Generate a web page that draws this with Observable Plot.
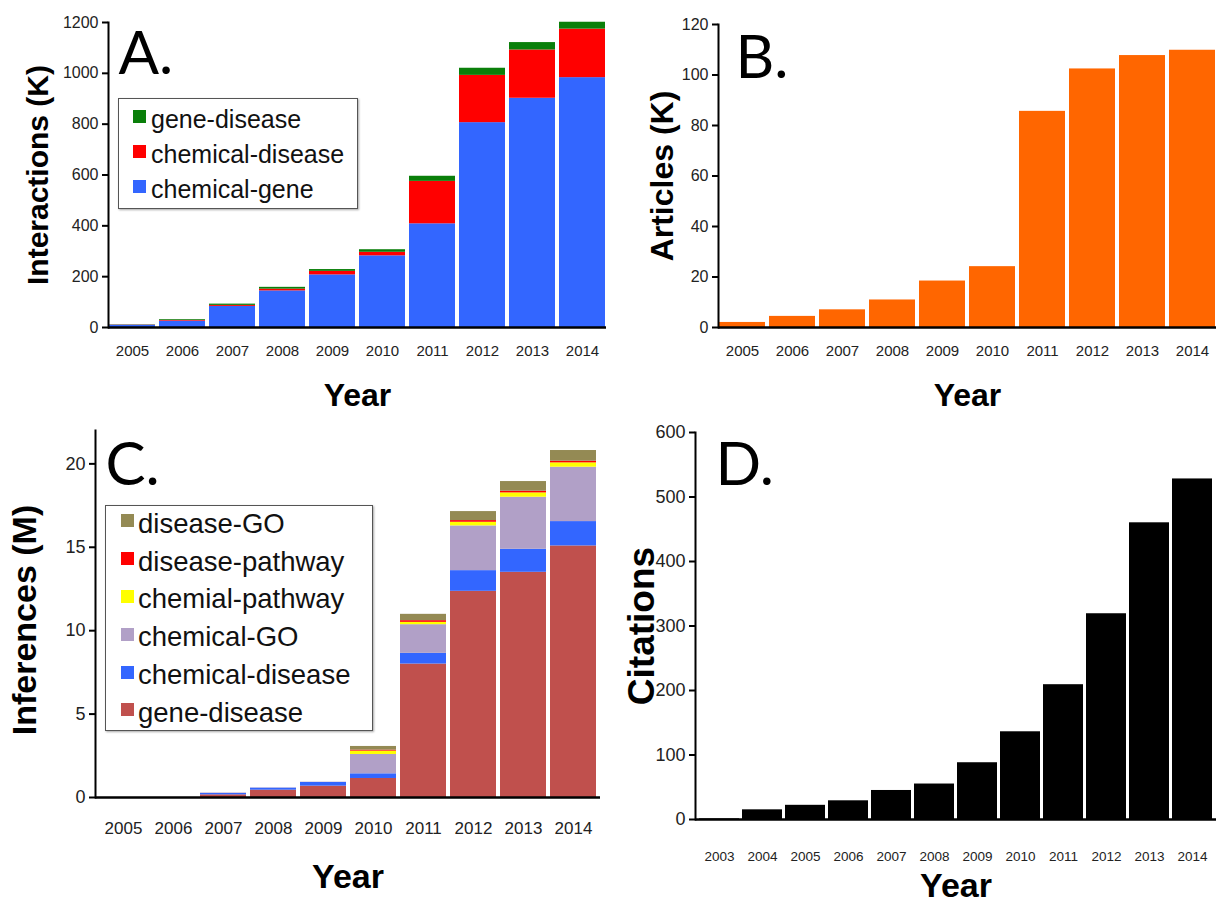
<!DOCTYPE html>
<html>
<head>
<meta charset="utf-8">
<script src="https://cdn.jsdelivr.net/npm/d3@7"></script>
<script src="https://cdn.jsdelivr.net/npm/@observablehq/plot@0.6"></script>
<style>
  html, body { margin: 0; padding: 0; background: white; }
  #root { position: relative; width: 1218px; height: 906px; overflow: hidden; font-family: "Liberation Sans", Arial, sans-serif; }
  .panel { position: absolute; }
  .legend { position: absolute; border: 1.5px solid #555; background: white; box-shadow: 1px 1px 2px rgba(0,0,0,0.35); box-sizing: border-box; }
  .legend .row { position: absolute; left: 0; display: flex; align-items: center; white-space: nowrap; color: #111; }
  .legend .sw { display: inline-block; }
</style>
</head>
<body>
<div id="root"></div>
<script>
// ---------- DATA ----------
const yearsA = ["2005","2006","2007","2008","2009","2010","2011","2012","2013","2014"];
const seriesA = ["chemical-gene","chemical-disease","gene-disease"]; // bottom to top
const colorsA = ["#3366FF","#FF0000","#0A7F0A"];
const aChemGene    = [9, 25, 83, 144, 207, 282, 408, 806, 902, 983];
const aChemDisease = [1, 3, 4, 7, 14, 14, 167, 186, 190, 191];
const aGeneDisease = [1, 3, 5, 7, 7, 10, 20, 28, 29, 27];
const ticksA = [0, 200, 400, 600, 800, 1000, 1200];

const yearsB = ["2005","2006","2007","2008","2009","2010","2011","2012","2013","2014"];
const articlesB = [2.0, 4.4, 7.0, 10.9, 18.4, 24.1, 85.6, 102.4, 107.7, 109.8];
const ticksB = [0, 20, 40, 60, 80, 100, 120];

const yearsC = ["2005","2006","2007","2008","2009","2010","2011","2012","2013","2014"];
const seriesC = ["gene-disease","chemical-disease","chemical-GO","chemial-pathway","disease-pathway","disease-GO"]; // bottom to top
const colorsC = ["#C0504D","#3366FF","#B1A0C7","#FFFF00","#FF0000","#948A54"];
const cGeneDisease    = [0, 0, 0.16, 0.44, 0.68, 1.14, 8.0, 12.36, 13.5, 15.08];
const cChemDisease    = [0, 0, 0.08, 0.12, 0.22, 0.28, 0.64, 1.24, 1.38, 1.46];
const cChemGO         = [0, 0, 0.03, 0.02, 0.02, 1.16, 1.72, 2.68, 3.12, 3.26];
const cChemPathway    = [0, 0, 0, 0, 0, 0.2, 0.14, 0.22, 0.26, 0.26];
const cDiseasePathway = [0, 0, 0, 0, 0, 0.06, 0.1, 0.1, 0.1, 0.1];
const cDiseaseGO      = [0, 0, 0, 0, 0, 0.22, 0.38, 0.54, 0.58, 0.64];
const ticksC = [0, 5, 10, 15, 20];

const yearsD = ["2003","2004","2005","2006","2007","2008","2009","2010","2011","2012","2013","2014"];
const citationsD = [1, 15, 22, 29, 45, 55, 88, 136, 209, 319, 460, 528];
const ticksD = [0, 100, 200, 300, 400, 500, 600];

// ---------- TABLES ----------
const aValues = [aChemGene, aChemDisease, aGeneDisease];
const tableA = yearsA.flatMap((yr, i) => seriesA.map((s, j) => ({year: yr, series: s, value: aValues[j][i]})));
const tableB = yearsB.map((yr, i) => ({year: yr, value: articlesB[i]}));
const cValues = [cGeneDisease, cChemDisease, cChemGO, cChemPathway, cDiseasePathway, cDiseaseGO];
const tableC = yearsC.flatMap((yr, i) => seriesC.map((s, j) => ({year: yr, series: s, value: cValues[j][i]})));
const tableD = yearsD.map((yr, i) => ({year: yr, value: citationsD[i]}));

const root = document.getElementById("root");
const SANS = "'Liberation Sans', Arial, sans-serif";
const LETTER = "Lato, 'Open Sans', sans-serif";

function place(el, left, top) {
  const d = document.createElement("div");
  d.className = "panel";
  d.style.left = left + "px";
  d.style.top = top + "px";
  d.appendChild(el);
  root.appendChild(d);
}

function common(o) {
  return [
    Plot.frame({anchor: "left", stroke: "black", strokeWidth: 2}),
    Plot.ruleY([0], {stroke: "black", strokeWidth: 2.5}),
    Plot.axisY({ticks: o.ticks, tickFormat: d => String(d), tickSize: 6, tickPadding: 4, fontSize: o.yFont, fontFamily: SANS, strokeWidth: 2, label: null, fill: "#222"}),
    Plot.axisX({tickSize: 0, tickPadding: o.xPad, fontSize: o.xFont, fontFamily: SANS, label: null, fill: "#222"}),
    Plot.text([o.xTitle], {text: d => d, frameAnchor: "bottom", textAnchor: "middle", lineAnchor: "middle", dy: o.xTitleDy, fontSize: o.xTitleSize, fontWeight: "bold", fontFamily: SANS, fill: "black"}),
    Plot.text([o.yTitle], {text: d => d, frameAnchor: "left", textAnchor: "middle", lineAnchor: "middle", rotate: -90, dx: o.yTitleDx, dy: o.yTitleDy || 0, fontSize: o.yTitleSize, fontWeight: "bold", fontFamily: SANS, fill: "black"}),
    Plot.text([o.letter], {text: d => d, frameAnchor: "top-left", textAnchor: "start", lineAnchor: "middle", dx: o.letterDx, dy: o.letterDy, fontSize: 60, fontFamily: LETTER, fill: "black"})
  ];
}

// ---------- PANEL A ----------
const plotA = Plot.plot({
  width: 615, height: 410,
  marginLeft: 108, marginRight: 9, marginTop: 22, marginBottom: 83,
  style: {fontFamily: SANS, background: "white", overflow: "visible"},
  x: {domain: yearsA, paddingInner: 0.08, paddingOuter: 0.02},
  y: {domain: [0, 1200]},
  color: {domain: seriesA, range: colorsA},
  marks: [
    Plot.barY(tableA, {x: "year", y: "value", fill: "series", order: seriesA}),
    ...common({ticks: ticksA, yFont: 16, xFont: 15, xPad: 18,
      xTitle: "Year", xTitleDy: 68, xTitleSize: 32, yTitle: "Interactions (K)", yTitleDx: -70, yTitleSize: 30,
      letter: "A.", letterDx: 10, letterDy: 32})
  ]
});
place(plotA, 0, 0);

// ---------- PANEL B ----------
const plotB = Plot.plot({
  width: 603, height: 410,
  marginLeft: 103, marginRight: 2, marginTop: 24, marginBottom: 83,
  style: {fontFamily: SANS, background: "white", overflow: "visible"},
  x: {domain: yearsB, paddingInner: 0.08, paddingOuter: 0.02},
  y: {domain: [0, 120]},
  marks: [
    Plot.barY(tableB, {x: "year", y: "value", fill: "#FF6600"}),
    ...common({ticks: ticksB, yFont: 16, xFont: 15, xPad: 18,
      xTitle: "Year", xTitleDy: 68, xTitleSize: 32, yTitle: "Articles (K)", yTitleDx: -56, yTitleSize: 32,
      letter: "B.", letterDx: 17, letterDy: 34})
  ]
});
place(plotB, 615, 0);

// ---------- PANEL C ----------
const plotC = Plot.plot({
  width: 610, height: 486,
  marginLeft: 95, marginRight: 10, marginTop: 10, marginBottom: 109,
  style: {fontFamily: SANS, background: "white", overflow: "visible"},
  x: {domain: yearsC, paddingInner: 0.08, paddingOuter: 0.02},
  y: {domain: [0, 22]},
  color: {domain: seriesC, range: colorsC},
  marks: [
    Plot.barY(tableC, {x: "year", y: "value", fill: "series", order: seriesC}),
    ...common({ticks: ticksC, yFont: 18, xFont: 17, xPad: 24,
      xTitle: "Year", xTitleDy: 80, xTitleSize: 34, yTitle: "Inferences (M)", yTitleDx: -70, yTitleDy: 6, yTitleSize: 34,
      letter: "C.", letterDx: 10, letterDy: 35})
  ]
});
place(plotC, 0, 420);

// ---------- PANEL D ----------
const plotD = Plot.plot({
  width: 603, height: 486,
  marginLeft: 80, marginRight: 2, marginTop: 12, marginBottom: 87,
  style: {fontFamily: SANS, background: "white", overflow: "visible"},
  x: {domain: yearsD, paddingInner: 0.07, paddingOuter: 0.02},
  y: {domain: [0, 600]},
  marks: [
    Plot.barY(tableD, {x: "year", y: "value", fill: "black"}),
    ...common({ticks: ticksD, yFont: 18, xFont: 13.5, xPad: 32,
      xTitle: "Year", xTitleDy: 67, xTitleSize: 34, yTitle: "Citations", yTitleDx: -53, yTitleSize: 37,
      letter: "D.", letterDx: 20, letterDy: 33})
  ]
});
place(plotD, 615, 420);

// ---------- LEGENDS (HTML overlays) ----------
function legend(left, top, width, height, items, colors, opts) {
  const box = document.createElement("div");
  box.className = "legend";
  Object.assign(box.style, {left: left + "px", top: top + "px", width: width + "px", height: height + "px"});
  items.forEach((name, i) => {
    const row = document.createElement("div");
    row.className = "row";
    row.style.top = (opts.firstTop + i * opts.step) + "px";
    row.style.left = opts.swLeft + "px";
    row.style.height = opts.step + "px";
    row.style.fontSize = opts.fontSize + "px";
    row.style.fontFamily = SANS;
    const sw = document.createElement("span");
    sw.className = "sw";
    Object.assign(sw.style, {width: opts.sw + "px", height: opts.sw + "px", background: colors[i], marginRight: opts.gap + "px", marginTop: "-6px"});
    const tx = document.createElement("span");
    tx.textContent = name;
    row.appendChild(sw);
    row.appendChild(tx);
    box.appendChild(row);
  });
  root.appendChild(box);
}
// Panel A legend: top to bottom
legend(118, 98, 240, 111, seriesA.slice().reverse(), colorsA.slice().reverse(),
  {firstTop: 3, step: 35, swLeft: 14, sw: 13, gap: 5, fontSize: 25});
// Panel C legend
legend(105, 505, 268, 226, seriesC.slice().reverse(), colorsC.slice().reverse(),
  {firstTop: -1, step: 37.8, swLeft: 15, sw: 13, gap: 4, fontSize: 27.5});
</script>
</body>
</html>
